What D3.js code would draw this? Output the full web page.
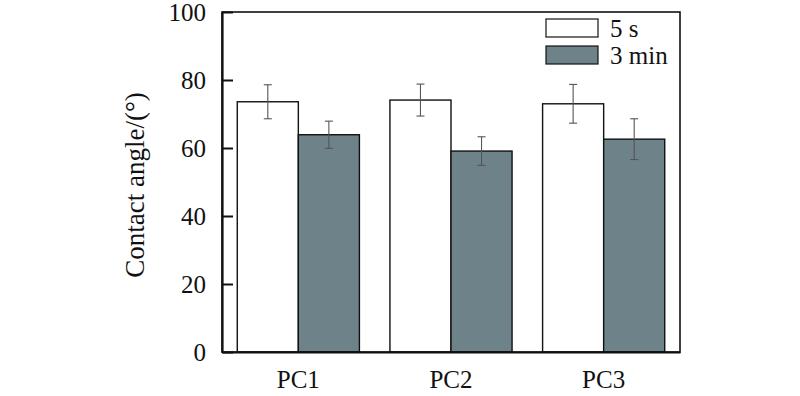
<!DOCTYPE html>
<html>
<head>
<meta charset="utf-8">
<script src="https://cdn.jsdelivr.net/npm/d3@7"></script>
<style>
  body { margin: 0; background: #fff; }
</style>
</head>
<body>
<svg id="drawing_region"></svg>
<script>
const categories = ["PC1", "PC2", "PC3"];
const seriesNames = ["5 s", "3 min"];
const values5s = [73.6, 74.1, 73.0];
const err5s = [5.0, 4.7, 5.7];
const values3min = [63.9, 59.1, 62.6];
const err3min = [4.0, 4.2, 6.0];
const yTicks = [0, 20, 40, 60, 80, 100];
const colors = ["#ffffff", "#6e8389"];

const FONT = '"Liberation Serif"';

const width = 800, height = 396;
const margin = {top: 12, right: 120, bottom: 44, left: 222};
const innerW = width - margin.left - margin.right;
const innerH = height - margin.top - margin.bottom;

const svg = d3.select("#drawing_region")
    .attr("width", width)
    .attr("height", height);

const chart = svg.append("g")
    .attr("transform", `translate(${margin.left}, ${margin.top})`);

const xscale = d3.scaleBand()
    .domain(categories)
    .range([0, innerW])
    .paddingInner(0.2)
    .paddingOuter(0.1);

const sub = d3.scaleBand()
    .domain(seriesNames)
    .range([0, xscale.bandwidth()]);

const yscale = d3.scaleLinear()
    .domain([0, 100])
    .range([innerH, 0]);

const series = [
    {name: seriesNames[0], vals: values5s, errs: err5s, color: colors[0]},
    {name: seriesNames[1], vals: values3min, errs: err3min, color: colors[1]}
];

const rows = [];
series.forEach(s => {
    categories.forEach((c, i) => {
        rows.push({cat: c, name: s.name, v: s.vals[i], e: s.errs[i], color: s.color});
    });
});

// bars
chart.selectAll("rect.bar")
    .data(rows)
    .enter()
    .append("rect")
    .attr("class", "bar")
    .attr("x", d => xscale(d.cat) + sub(d.name))
    .attr("y", d => yscale(d.v))
    .attr("width", sub.bandwidth())
    .attr("height", d => innerH - yscale(d.v))
    .attr("fill", d => d.color)
    .attr("stroke", "#111")
    .attr("stroke-width", 1.4);

// error bars
const eb = chart.selectAll("g.err")
    .data(rows)
    .enter()
    .append("g")
    .attr("class", "err")
    .attr("stroke", "#555")
    .attr("stroke-width", 1.1);

const cx = d => xscale(d.cat) + sub(d.name) + sub.bandwidth() / 2;
eb.append("line")
    .attr("x1", cx).attr("x2", cx)
    .attr("y1", d => yscale(d.v + d.e))
    .attr("y2", d => yscale(d.v - d.e));
eb.append("line")
    .attr("x1", d => cx(d) - 4).attr("x2", d => cx(d) + 4)
    .attr("y1", d => yscale(d.v + d.e))
    .attr("y2", d => yscale(d.v + d.e));
eb.append("line")
    .attr("x1", d => cx(d) - 4).attr("x2", d => cx(d) + 4)
    .attr("y1", d => yscale(d.v - d.e))
    .attr("y2", d => yscale(d.v - d.e));

// frame
chart.append("rect")
    .attr("x", 0).attr("y", 0)
    .attr("width", innerW).attr("height", innerH)
    .attr("fill", "none")
    .attr("stroke", "#111")
    .attr("stroke-width", 1.6);

// y axis with inward ticks
const yaxis = d3.axisLeft(yscale)
    .tickValues(yTicks)
    .tickSize(-11)
    .tickPadding(16)
    .tickSizeOuter(0);

const yg = chart.append("g").call(yaxis).attr("font-family", null);
yg.select(".domain").attr("stroke", "#111").attr("stroke-width", 2.2);
yg.selectAll(".tick line").attr("stroke", "#111").attr("stroke-width", 2);
yg.selectAll(".tick text")
    .style("font-family", FONT)
    .style("font-size", "25px")
    .attr("fill", "#111");

// x axis, labels only
const xaxis = d3.axisBottom(xscale).tickSize(0).tickPadding(18);
const xg = chart.append("g")
    .attr("transform", `translate(0, ${innerH})`)
    .call(xaxis)
    .attr("font-family", null);
xg.select(".domain").attr("stroke", "#111").attr("stroke-width", 2.2);
xg.selectAll(".tick text")
    .style("font-family", FONT)
    .style("font-size", "25px")
    .attr("fill", "#111");

// y label
svg.append("text")
    .attr("transform", "rotate(-90)")
    .attr("x", -185)
    .attr("y", 144)
    .attr("text-anchor", "middle")
    .style("font-family", FONT)
    .style("font-size", "27px")
    .attr("fill", "#111")
    .text("Contact angle/(°)");

// legend
const legend = svg.append("g")
    .attr("transform", "translate(546, 19)");
series.forEach((s, i) => {
    legend.append("rect")
        .attr("x", 0)
        .attr("y", i * 27)
        .attr("width", 52)
        .attr("height", 18)
        .attr("fill", s.color)
        .attr("stroke", "#111")
        .attr("stroke-width", 1.2);
    legend.append("text")
        .attr("x", 64)
        .attr("y", i * 27 + 18)
        .style("font-family", FONT)
        .style("font-size", "25px")
        .attr("fill", "#111")
        .text(s.name);
});
</script>
</body>
</html>
